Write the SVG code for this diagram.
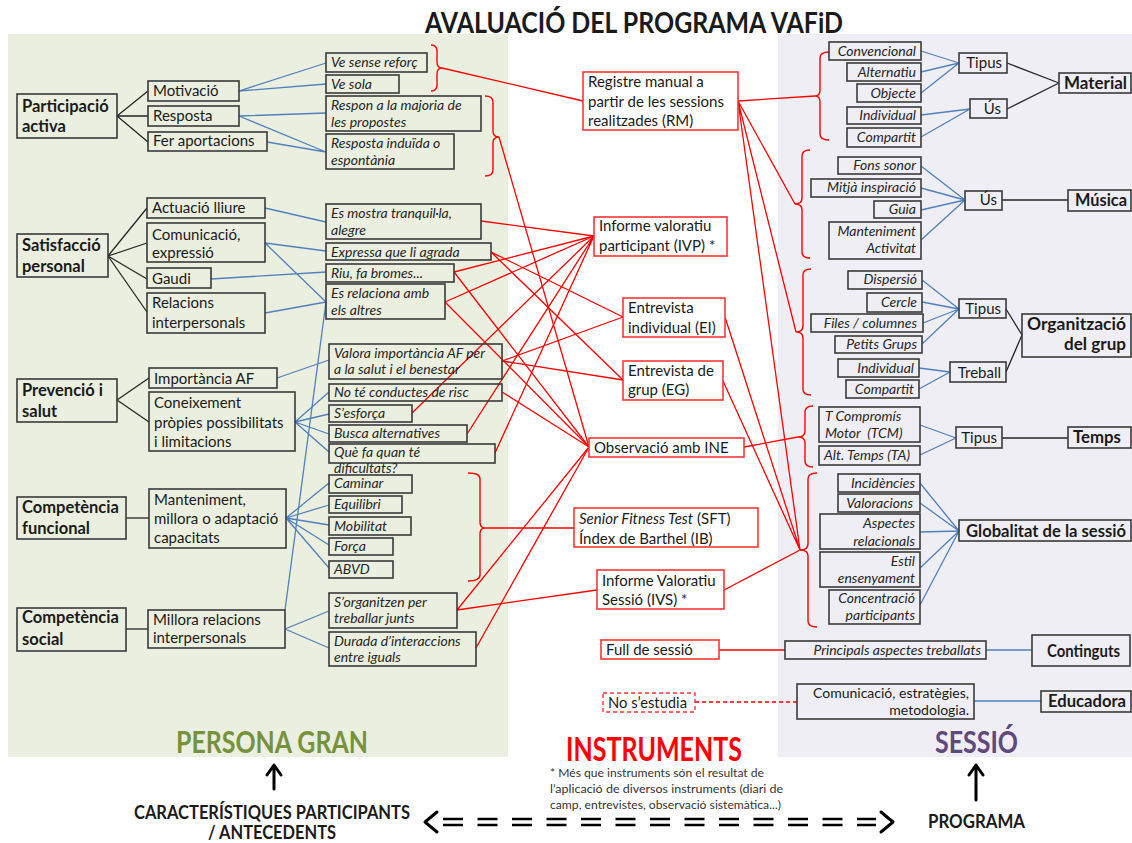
<svg xmlns="http://www.w3.org/2000/svg" width="1132" height="843" viewBox="0 0 1132 843">
<style>
  text { font-family: Lato, 'Liberation Sans', sans-serif; fill: #1a1a1a; }
  .r16 { font-size: 15px; }
  .it { font-size: 14px; font-style: italic; fill: #262626; }
  .bd { font-size: 16.5px; font-weight: bold; }
  .end { text-anchor: end; }
  .box { fill: none; stroke: #3a3a3a; stroke-width: 1.6; }
  .ins { fill: #ffffff; stroke: #ff3636; stroke-width: 1.6; }
  .insd { fill: #ffffff; stroke: #ff3636; stroke-width: 1.4; stroke-dasharray: 4 3; }
  .blue { stroke: #4f81bd; stroke-width: 1.3; fill: none; }
  .blk { stroke: #262626; stroke-width: 1.3; fill: none; }
  .red { stroke: #ff0000; stroke-width: 1.3; fill: none; }
  .redd { stroke: #ff0000; stroke-width: 1.3; fill: none; stroke-dasharray: 4 3; }
  .brace { stroke: #ff0000; stroke-width: 1.4; fill: none; }
  .big { font-weight: bold; }
  .arrow { stroke: #000; stroke-width: 3; fill: none; stroke-linecap: round; stroke-linejoin: round; }
</style>

<!-- background panels -->
<rect x="8" y="34" width="500" height="723" fill="#ebefdf"/>
<rect x="778" y="34" width="354" height="723" fill="#efeef4"/>

<!-- title -->
<text x="425" y="33" class="big" font-size="28" textLength="418" lengthAdjust="spacingAndGlyphs">AVALUACIÓ DEL PROGRAMA VAFiD</text>

<!-- connectors -->
<g id="connectors">
  <!-- participant side: dimensions to sub-dimensions -->
  <path class="blk" d="M117,116 L148,91 M117,116 L148,116 M117,116 L148,142"/>
  <path class="blk" d="M108,256 L147,208 M108,256 L147,243 M108,256 L147,279 M108,256 L147,312"/>
  <path class="blk" d="M117,400 L149,378 M117,400 L149,422"/>
  <path class="blk" d="M126,518 L149,518"/>
  <path class="blk" d="M126,629 L148,629"/>
  <!-- sub-dimensions to indicators -->
  <path class="blue" d="M239,91 L326,63 M239,91 L326,84"/>
  <path class="blue" d="M239,116 L326,113 M239,116 L326,152 M267,142 L326,152"/>
  <path class="blue" d="M265,208 L326,222"/>
  <path class="blue" d="M265,243 L326,251 M265,243 L326,302"/>
  <path class="blue" d="M211,279 L326,272"/>
  <path class="blue" d="M265,313 L326,302"/>
  <path class="blue" d="M326,302 L285,610"/>
  <path class="blue" d="M277,378 L329,360"/>
  <path class="blue" d="M295,422 L329,392 M295,422 L329,414 M295,422 L329,434 M295,422 L329,452"/>
  <path class="blue" d="M286,518 L329,483 M286,518 L329,505 M286,518 L329,525 M286,518 L329,545 M286,518 L329,568"/>
  <path class="blue" d="M285,629 L329,611 M285,629 L329,648"/>

  <!-- braces grouping indicators -->
  <path class="brace" d="M431,45 Q437,45 437,51 L437,62 Q437,68 442,68 Q437,68 437,74 L437,85 Q437,91 431,91"/>
  <path class="brace" d="M485,96 Q493,96 493,102 L493,131 Q493,137 499,137 Q493,137 493,143 L493,170 Q493,176 485,176"/>
  <path class="brace" d="M468,473 Q480,473 480,479 L480,522 Q480,528 485,528 Q480,528 480,534 L480,575 Q480,581 468,581"/>

  <!-- indicators to instruments -->
  <path class="red" d="M442,68 L583,101"/>
  <path class="red" d="M499,137 L589,447"/>
  <path class="red" d="M481,221 L594,236"/>
  <path class="red" d="M454,272 L594,236 M454,272 L589,447"/>
  <path class="red" d="M445,302 L594,236 M445,302 L589,447"/>
  <path class="red" d="M491,252 L623,317 M491,252 L623,380"/>
  <path class="red" d="M502,361 L623,317 M502,361 L623,380"/>
  <path class="red" d="M502,392 L589,447"/>
  <path class="red" d="M412,413 L594,236 M467,434 L594,236 M495,453 L594,236"/>
  <path class="red" d="M485,528 L574,528"/>
  <path class="red" d="M457,610 L589,447 M457,610 L597,590"/>
  <path class="red" d="M476,648 L589,447"/>

  <!-- instruments to session aspects -->
  <path class="red" d="M738,101 L815,96 M738,101 L795,204 M738,101 L796,332 M738,101 L800,550"/>
  <path class="red" d="M725,317 L800,550 M723,381 L800,550 M724,590 L800,550"/>
  <path class="red" d="M744,447 L798,437"/>
  <path class="red" d="M719,650 L785,650"/>
  <path class="redd" d="M695,702 L797,702"/>

  <!-- session braces -->
  <path class="brace" d="M829,52 Q820,52 820,58 L820,90 Q820,96 815,96 Q820,96 820,102 L820,134 Q820,140 829,140"/>
  <path class="brace" d="M810,150 Q802,150 802,156 L802,198 Q802,204 795,204 Q802,204 802,210 L802,252 Q802,258 810,258"/>
  <path class="brace" d="M811,269 Q803,269 803,275 L803,326 Q803,332 796,332 Q803,332 803,338 L803,389 Q803,395 811,395"/>
  <path class="brace" d="M813,406 Q805,406 805,412 L805,431 Q805,437 798,437 Q805,437 805,443 L805,461 Q805,467 813,467"/>
  <path class="brace" d="M817,473 Q808,473 808,479 L808,544 Q808,550 800,550 Q808,550 808,556 L808,621 Q808,627 817,627"/>

  <!-- session side: items to categories -->
  <path class="blue" d="M921,51 L959,63 M921,72 L959,63 M921,93 L959,63 M921,115 L970,109 M921,137 L970,109"/>
  <path class="blk" d="M1007,63 L1059,83 M1007,109 L1059,83"/>
  <path class="blue" d="M921,166 L965,200 M921,188 L965,200 M921,210 L965,200 M921,240 L965,200"/>
  <path class="blk" d="M1002,200 L1068,200"/>
  <path class="blue" d="M922,280 L959,309 M922,302 L959,309 M923,323 L959,309 M922,344 L959,309 M919,368 L950,372 M919,389 L950,372"/>
  <path class="blk" d="M1006,309 L1022,335 M1006,372 L1022,335"/>
  <path class="blue" d="M920,425 L956,438 M920,455 L956,438"/>
  <path class="blk" d="M1002,438 L1068,438"/>
  <path class="blue" d="M920,483 L959,531 M920,503 L959,531 M920,532 L959,531 M920,568 L959,531 M920,605 L959,531"/>
  <path class="blue" d="M986,650 L1032,650"/>
  <path class="blue" d="M974,701 L1041,701"/>
</g>

<!-- participant dimensions -->
<g id="participacio-activa"><rect class="box" x="17" y="94" width="100" height="44"/><text class="bd" x="22" y="112">Participació</text><text class="bd" x="22" y="132">activa</text></g>
<g id="satisfaccio-personal"><rect class="box" x="17" y="234" width="91" height="43"/><text class="bd" x="22" y="251">Satisfacció</text><text class="bd" x="22" y="272">personal</text></g>
<g id="prevencio-salut"><rect class="box" x="17" y="379" width="100" height="43"/><text class="bd" x="22" y="396">Prevenció i</text><text class="bd" x="22" y="417">salut</text></g>
<g id="competencia-funcional"><rect class="box" x="17" y="497" width="109" height="42"/><text class="bd" x="22" y="513">Competència</text><text class="bd" x="22" y="534">funcional</text></g>
<g id="competencia-social"><rect class="box" x="17" y="608" width="109" height="43"/><text class="bd" x="22" y="623">Competència</text><text class="bd" x="22" y="645">social</text></g>

<!-- participant sub-dimensions -->
<g id="motivacio"><rect class="box" x="148" y="81" width="91" height="20"/><text class="r16" x="153" y="96">Motivació</text></g>
<g id="resposta"><rect class="box" x="148" y="106" width="91" height="20"/><text class="r16" x="153" y="121">Resposta</text></g>
<g id="fer-aportacions"><rect class="box" x="148" y="132" width="119" height="19"/><text class="r16" x="153" y="146">Fer aportacions</text></g>
<g id="actuacio-lliure"><rect class="box" x="147" y="198" width="118" height="20"/><text class="r16" x="152" y="213">Actuació lliure</text></g>
<g id="comunicacio"><rect class="box" x="147" y="223" width="118" height="39"/><text class="r16" x="152" y="240">Comunicació,</text><text class="r16" x="152" y="258">expressió</text></g>
<g id="gaudi"><rect class="box" x="147" y="268" width="64" height="20"/><text class="r16" x="152" y="284">Gaudi</text></g>
<g id="relacions"><rect class="box" x="147" y="293" width="118" height="40"/><text class="r16" x="152" y="308">Relacions</text><text class="r16" x="152" y="328">interpersonals</text></g>
<g id="importancia-af"><rect class="box" x="149" y="368" width="128" height="20"/><text class="r16" x="154" y="384">Importància AF</text></g>
<g id="coneixement"><rect class="box" x="149" y="392" width="146" height="59"/><text class="r16" x="154" y="408">Coneixement</text><text class="r16" x="154" y="428">pròpies possibilitats</text><text class="r16" x="154" y="447">i limitacions</text></g>
<g id="manteniment"><rect class="box" x="149" y="489" width="137" height="59"/><text class="r16" x="154" y="505">Manteniment,</text><text class="r16" x="154" y="524">millora o adaptació</text><text class="r16" x="154" y="543">capacitats</text></g>
<g id="millora-relacions"><rect class="box" x="148" y="610" width="137" height="38"/><text class="r16" x="153" y="625">Millora relacions</text><text class="r16" x="153" y="643">interpersonals</text></g>

<!-- participant indicators -->
<g id="ve-sense-reforc"><rect class="box" x="326" y="53" width="101" height="19"/><text class="it" x="331" y="67">Ve sense reforç</text></g>
<g id="ve-sola"><rect class="box" x="326" y="75" width="73" height="18"/><text class="it" x="331" y="89">Ve sola</text></g>
<g id="respon-majoria"><rect class="box" x="326" y="96" width="155" height="35"/><text class="it" x="331" y="110">Respon a la majoria de</text><text class="it" x="331" y="127">les propostes</text></g>
<g id="resposta-induida"><rect class="box" x="326" y="134" width="128" height="35"/><text class="it" x="331" y="148">Resposta induïda o</text><text class="it" x="331" y="165">espontània</text></g>
<g id="es-mostra"><rect class="box" x="326" y="204" width="155" height="35"/><text class="it" x="331" y="218">Es mostra tranquil·la,</text><text class="it" x="331" y="235">alegre</text></g>
<g id="expressa"><rect class="box" x="326" y="243" width="165" height="17"/><text class="it" x="331" y="257">Expressa que li agrada</text></g>
<g id="riu"><rect class="box" x="326" y="264" width="128" height="18"/><text class="it" x="331" y="278">Riu, fa bromes...</text></g>
<g id="es-relaciona"><rect class="box" x="326" y="284" width="119" height="35"/><text class="it" x="331" y="298">Es relaciona amb</text><text class="it" x="331" y="315">els altres</text></g>
<g id="valora"><rect class="box" x="329" y="344" width="173" height="35"/><text class="it" x="334" y="358">Valora importància AF per</text><text class="it" x="334" y="374">a la salut i el benestar</text></g>
<g id="no-te-conductes"><rect class="box" x="329" y="384" width="173" height="17"/><text class="it" x="334" y="397">No té conductes de risc</text></g>
<g id="s-esforca"><rect class="box" x="329" y="405" width="83" height="17"/><text class="it" x="334" y="418">S’esforça</text></g>
<g id="busca-alternatives"><rect class="box" x="329" y="425" width="138" height="17"/><text class="it" x="334" y="438">Busca alternatives</text></g>
<g id="que-fa"><rect class="box" x="329" y="444" width="166" height="19"/><text class="it" x="334" y="457">Què fa quan té</text><text class="it" x="334" y="473">dificultats?</text></g>
<g id="caminar"><rect class="box" x="329" y="475" width="83" height="18"/><text class="it" x="334" y="488">Caminar</text></g>
<g id="equilibri"><rect class="box" x="329" y="496" width="73" height="17"/><text class="it" x="334" y="509">Equilibri</text></g>
<g id="mobilitat"><rect class="box" x="329" y="517" width="82" height="18"/><text class="it" x="334" y="531">Mobilitat</text></g>
<g id="forca"><rect class="box" x="329" y="538" width="64" height="17"/><text class="it" x="334" y="551">Força</text></g>
<g id="abvd"><rect class="box" x="329" y="561" width="64" height="17"/><text class="it" x="334" y="574">ABVD</text></g>
<g id="s-organitzen"><rect class="box" x="329" y="593" width="128" height="35"/><text class="it" x="334" y="607">S’organitzen per</text><text class="it" x="334" y="623">treballar junts</text></g>
<g id="durada"><rect class="box" x="329" y="632" width="147" height="34"/><text class="it" x="334" y="646">Durada d’interaccions</text><text class="it" x="334" y="662">entre iguals</text></g>

<!-- instruments -->
<g id="rm"><rect class="ins" x="583" y="72" width="155" height="58"/><text class="r16" x="588" y="87">Registre manual a</text><text class="r16" x="588" y="107">partir de les sessions</text><text class="r16" x="588" y="126">realitzades (RM)</text></g>
<g id="ivp"><rect class="ins" x="594" y="217" width="133" height="39"/><text class="r16" x="599" y="231">Informe valoratiu</text><text class="r16" x="599" y="251">participant (IVP) *</text></g>
<g id="ei"><rect class="ins" x="623" y="298" width="102" height="39"/><text class="r16" x="628" y="313">Entrevista</text><text class="r16" x="628" y="333">individual (EI)</text></g>
<g id="eg"><rect class="ins" x="623" y="361" width="100" height="39"/><text class="r16" x="628" y="376">Entrevista de</text><text class="r16" x="628" y="395">grup (EG)</text></g>
<g id="ine"><rect class="ins" x="589" y="438" width="155" height="19"/><text class="r16" x="594" y="453">Observació amb INE</text></g>
<g id="sft"><rect class="ins" x="574" y="508" width="184" height="39"/><text class="r16" x="579" y="524"><tspan font-style="italic">Senior Fitness Test</tspan> (SFT)</text><text class="r16" x="579" y="544">Índex de Barthel (IB)</text></g>
<g id="ivs"><rect class="ins" x="597" y="570" width="127" height="39"/><text class="r16" x="602" y="586">Informe Valoratiu</text><text class="r16" x="602" y="605">Sessió (IVS) *</text></g>
<g id="full-sessio"><rect class="ins" x="601" y="640" width="118" height="19"/><text class="r16" x="606" y="655">Full de sessió</text></g>
<g id="no-estudia"><rect class="insd" x="603" y="693" width="92" height="19"/><text class="r16" x="608" y="708" textLength="79" lengthAdjust="spacingAndGlyphs">No s’estudia</text></g>

<!-- session: material -->
<g id="convencional"><rect class="box" x="829" y="42" width="92" height="18"/><text class="it end" x="916" y="56">Convencional</text></g>
<g id="alternatiu"><rect class="box" x="847" y="63" width="74" height="18"/><text class="it end" x="916" y="77">Alternatiu</text></g>
<g id="objecte"><rect class="box" x="857" y="84" width="64" height="18"/><text class="it end" x="916" y="98">Objecte</text></g>
<g id="material-individual"><rect class="box" x="847" y="107" width="74" height="17"/><text class="it end" x="916" y="120">Individual</text></g>
<g id="material-compartit"><rect class="box" x="847" y="128" width="74" height="19"/><text class="it end" x="916" y="142">Compartit</text></g>
<g id="material-tipus"><rect class="box" x="959" y="53" width="48" height="20"/><text class="r16 end" x="1002" y="68">Tipus</text></g>
<g id="material-us"><rect class="box" x="970" y="99" width="37" height="19"/><text class="r16 end" x="1001" y="114">Ús</text></g>
<g id="material"><rect class="box" x="1059" y="73" width="72" height="20"/><text class="bd" x="1064" y="89" textLength="63" lengthAdjust="spacingAndGlyphs">Material</text></g>

<!-- session: music -->
<g id="fons-sonor"><rect class="box" x="838" y="157" width="83" height="17"/><text class="it end" x="916" y="170">Fons sonor</text></g>
<g id="mitja-inspiracio"><rect class="box" x="811" y="179" width="110" height="18"/><text class="it end" x="916" y="192">Mitjà inspiració</text></g>
<g id="guia"><rect class="box" x="874" y="201" width="47" height="17"/><text class="it end" x="916" y="214">Guia</text></g>
<g id="manteniment-activitat"><rect class="box" x="829" y="222" width="92" height="37"/><text class="it end" x="916" y="236">Manteniment</text><text class="it end" x="916" y="253">Activitat</text></g>
<g id="musica-us"><rect class="box" x="965" y="191" width="37" height="19"/><text class="r16 end" x="997" y="205">Ús</text></g>
<g id="musica"><rect class="box" x="1068" y="190" width="63" height="21"/><text class="bd" x="1075" y="206" textLength="52" lengthAdjust="spacingAndGlyphs">Música</text></g>

<!-- session: group organisation -->
<g id="dispersio"><rect class="box" x="848" y="271" width="74" height="18"/><text class="it end" x="917" y="284">Dispersió</text></g>
<g id="cercle"><rect class="box" x="867" y="293" width="55" height="19"/><text class="it end" x="917" y="307">Cercle</text></g>
<g id="files-columnes"><rect class="box" x="811" y="314" width="112" height="18"/><text class="it end" x="917" y="328">Files / columnes</text></g>
<g id="petits-grups"><rect class="box" x="835" y="336" width="87" height="17"/><text class="it end" x="917" y="349">Petits Grups</text></g>
<g id="grup-individual"><rect class="box" x="838" y="359" width="81" height="18"/><text class="it end" x="914" y="373">Individual</text></g>
<g id="grup-compartit"><rect class="box" x="846" y="380" width="73" height="18"/><text class="it end" x="914" y="394">Compartit</text></g>
<g id="grup-tipus"><rect class="box" x="959" y="299" width="47" height="19"/><text class="r16 end" x="1001" y="314">Tipus</text></g>
<g id="treball"><rect class="box" x="950" y="362" width="56" height="20"/><text class="r16 end" x="1001" y="378">Treball</text></g>
<g id="organitzacio-grup"><rect class="box" x="1022" y="314" width="109" height="43"/><text class="bd" x="1027" y="330" textLength="99" lengthAdjust="spacingAndGlyphs">Organització</text><text class="bd" x="1064" y="350" textLength="62" lengthAdjust="spacingAndGlyphs">del grup</text></g>

<!-- session: time -->
<g id="tcm"><rect class="box" x="819" y="407" width="101" height="35"/><text class="it" x="825" y="421">T Compromís</text><text class="it" x="825" y="438" xml:space="preserve">Motor  (TCM)</text></g>
<g id="ta"><rect class="box" x="819" y="446" width="101" height="19"/><text class="it" x="824" y="460">Alt. Temps (TA)</text></g>
<g id="temps-tipus"><rect class="box" x="956" y="427" width="46" height="21"/><text class="r16 end" x="997" y="443">Tipus</text></g>
<g id="temps"><rect class="box" x="1068" y="427" width="63" height="21"/><text class="bd" x="1073" y="443" textLength="48" lengthAdjust="spacingAndGlyphs">Temps</text></g>

<!-- session: overall -->
<g id="incidencies"><rect class="box" x="838" y="474" width="82" height="18"/><text class="it end" x="915" y="488">Incidències</text></g>
<g id="valoracions"><rect class="box" x="838" y="494" width="82" height="18"/><text class="it end" x="913" y="508">Valoracions</text></g>
<g id="aspectes-relacionals"><rect class="box" x="820" y="514" width="100" height="35"/><text class="it end" x="915" y="528">Aspectes</text><text class="it end" x="915" y="546">relacionals</text></g>
<g id="estil-ensenyament"><rect class="box" x="820" y="552" width="100" height="35"/><text class="it end" x="915" y="566">Estil</text><text class="it end" x="915" y="583">ensenyament</text></g>
<g id="concentracio"><rect class="box" x="829" y="590" width="91" height="34"/><text class="it end" x="915" y="603">Concentració</text><text class="it end" x="915" y="620">participants</text></g>
<g id="globalitat"><rect class="box" x="959" y="520" width="172" height="21"/><text class="bd" x="966" y="537" textLength="160" lengthAdjust="spacingAndGlyphs">Globalitat de la sessió</text></g>

<!-- session: contents and educator -->
<g id="principals-aspectes"><rect class="box" x="785" y="641" width="201" height="18"/><text class="it end" x="981" y="655">Principals aspectes treballats</text></g>
<g id="continguts"><rect class="box" x="1032" y="635" width="98" height="31"/><text class="bd" x="1047" y="657" textLength="73" lengthAdjust="spacingAndGlyphs">Continguts</text></g>
<g id="comunicacio-educadora"><rect class="box" x="797" y="684" width="177" height="35"/><text class="end" font-size="14" fill="#333" x="969" y="698">Comunicació, estratègies,</text><text class="end" font-size="14" fill="#333" x="969" y="715">metodologia.</text></g>
<g id="educadora"><rect class="box" x="1041" y="691" width="90" height="21"/><text class="bd" x="1048" y="707" textLength="78" lengthAdjust="spacingAndGlyphs">Educadora</text></g>

<!-- section labels -->
<text x="176" y="753" class="big" font-size="30" style="fill:#76923c" textLength="192" lengthAdjust="spacingAndGlyphs">PERSONA GRAN</text>
<text x="566" y="761" class="big" font-size="32" style="fill:#ff0000" textLength="176" lengthAdjust="spacingAndGlyphs">INSTRUMENTS</text>
<text x="935" y="753" class="big" font-size="30" style="fill:#5f497a" textLength="83" lengthAdjust="spacingAndGlyphs">SESSIÓ</text>

<!-- footnote -->
<g id="nota">
  <text x="550" y="777" style="fill:#333" font-size="11.5" textLength="214" lengthAdjust="spacingAndGlyphs">* Més que instruments són el resultat de</text>
  <text x="550" y="793" style="fill:#333" font-size="11.5" textLength="233" lengthAdjust="spacingAndGlyphs">l’aplicació de diversos instruments (diari de</text>
  <text x="550" y="809" style="fill:#333" font-size="11.5" textLength="231" lengthAdjust="spacingAndGlyphs">camp, entrevistes, observació sistemàtica...)</text>
</g>

<!-- bottom axis -->
<g id="eix">
  <path class="arrow" d="M274,789 L274,767 M267,775 L274,765 L281,775"/>
  <path class="arrow" d="M976,800 L976,767 M969,775 L976,765 L983,775"/>
  <text x="134" y="819" class="big" font-size="19" textLength="276" lengthAdjust="spacingAndGlyphs">CARACTERÍSTIQUES PARTICIPANTS</text>
  <text x="208" y="839" class="big" font-size="18" textLength="128" lengthAdjust="spacingAndGlyphs">/ ANTECEDENTS</text>
  <text x="928" y="828" class="big" font-size="19" textLength="97" lengthAdjust="spacingAndGlyphs">PROGRAMA</text>
  <path class="arrow" d="M437,812 L425,822 L437,832"/>
  <path class="arrow" d="M881,812 L893,822 L881,832"/>
  <path d="M443,819 L876,819 M443,825 L876,825" stroke="#000" stroke-width="2.5" stroke-dasharray="20 14.5" fill="none"/>
</g>
</svg>
